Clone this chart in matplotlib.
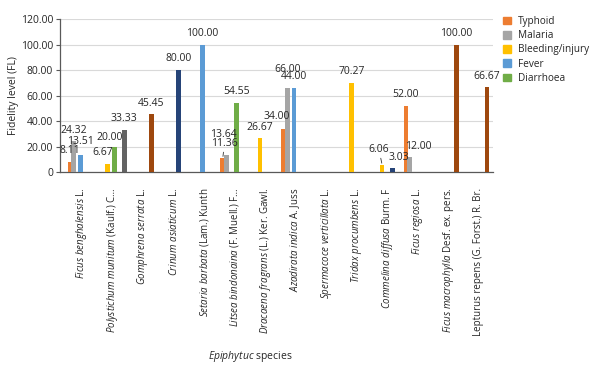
import numpy as np
import matplotlib
matplotlib.use("Agg")
import matplotlib.pyplot as plt
from matplotlib.patches import Patch

plt.rcParams['font.family'] = ['Open Sans', 'DejaVu Sans']
plt.rcParams['mathtext.fontset'] = 'custom'
plt.rcParams['mathtext.rm'] = 'Open Sans'
plt.rcParams['mathtext.it'] = 'Open Sans:italic'

nan = np.nan

# species on the x axis (italic part as mathtext)
species = [r"$\mathit{Ficus\ benghalensis}$ L.",
           r"$\mathit{Polystichum\ munitum}$ (Kaulf.) C…",
           r"$\mathit{Gomphrena\ serrata}$ L.",
           r"$\mathit{Crinum\ asiaticum}$ L.",
           r"$\mathit{Setaria\ barbata}$ (Lam.) Kunth",
           r"$\mathit{Litsea\ bindonaina}$ (F. Muell.) F…",
           r"$\mathit{Dracaena\ fragrans}$ (L.) Ker. Gawl.",
           r"$\mathit{Azadirata\ indica}$ A. Juss",
           r"$\mathit{Spermacoce\ verticillata}$ L.",
           r"$\mathit{Tridax\ procumbens}$ L.",
           r"$\mathit{Commelina\ diffusa}$ Burm. F",
           r"$\mathit{Ficus\ regiosa}$ L.",
           r"$\mathit{Ficus\ macrophylla}$ Desf. ex. pers.",
           "Lepturus repens (G. Forst.) R. Br."]

typhoid   = [8.11, nan, nan, nan, nan, 11.36, nan, 34.00, nan, nan, nan, 52.00, nan, nan]
malaria   = [24.32, nan, nan, nan, nan, 13.64, nan, 66.00, nan, nan, nan, 12.00, nan, nan]
bleeding  = [nan, 6.67, nan, nan, nan, nan, 26.67, nan, nan, 70.27, 6.06, nan, nan, nan]
fever     = [13.51, nan, nan, nan, 100.00, nan, nan, 66.00, nan, nan, nan, nan, nan, nan]
diarrhoea = [nan, 20.00, nan, nan, nan, 54.55, nan, nan, nan, nan, nan, nan, nan, nan]
series6   = [nan, nan, nan, 80.00, nan, nan, nan, nan, nan, nan, 3.03, nan, nan, nan]
series7   = [nan, nan, 45.45, nan, nan, nan, nan, nan, nan, nan, nan, nan, 100.00, 66.67]
series8   = [nan, 33.33, nan, nan, nan, nan, nan, nan, nan, nan, nan, nan, nan, nan]

series_names = ['Typhoid', 'Malaria', 'Bleeding/injury', 'Fever', 'Diarrhoea',
                'Series6', 'Series7', 'Series8']
series_vals = [typhoid, malaria, bleeding, fever, diarrhoea, series6, series7, series8]
colors = ['#ED7D31', '#A5A5A5', '#FFC000', '#5B9BD5', '#70AD47',
          '#264478', '#9E480E', '#636363']
n_legend = 5

# label text that differs from the bar (as printed in the source chart)
label_text = {(3, 7): "44.00"}
# manual label offsets in points (series index, category index)
label_off = {(2, 1): (-3.5, 8), (4, 1): (-3.5, 6.5), (3, 0): (0, 10),
             (0, 5): (1.2, 10), (1, 5): (-2, 14.4), (0, 7): (-5, 8.6),
             (1, 7): (0, 13.5), (2, 10): (-2.2, 10.5), (5, 10): (5, 8.2),
             (1, 11): (6.7, 7.4)}
leaders = [(0, 5), (2, 10)]

text_c = '#262626'
fig = plt.figure(figsize=(5.93, 3.70), dpi=100)
ax = fig.add_axes([60/593, 1-172.3/370, 433/593, 153.3/370])

x = np.arange(len(species))
step = 0.11
width = 0.155
for k, (vals, col) in enumerate(zip(series_vals, colors)):
    v = np.array(vals, dtype=float)
    pos = x + (k - 3.5) * step
    ax.bar(pos, np.nan_to_num(v), width=width, color=col, zorder=3 + k)
    for i, val in enumerate(v):
        if np.isnan(val):
            continue
        txt = label_text.get((k, i), f"{val:.2f}")
        off = label_off.get((k, i), (0, 8))
        kw = {}
        if (k, i) in leaders:
            kw['arrowprops'] = dict(arrowstyle='-', lw=0.6, color='#333333',
                                    shrinkA=0, shrinkB=1)
        ax.annotate(txt, (pos[i], val), xytext=off, textcoords='offset points',
                    ha='center', va='center', fontsize=7.5, color=text_c,
                    zorder=20, **kw)

ax.set_xlim(-0.72, 13.47)
ax.set_ylim(0, 120)
ax.set_yticks(np.arange(0, 121, 20))
ax.set_yticklabels(["0" if t == 0 else f"{t:.2f}" for t in np.arange(0, 121, 20)])
ax.yaxis.grid(True, color='#D9D9D9', lw=0.8, zorder=0)
ax.set_axisbelow(True)
ax.set_xticks(x)
ax.set_xticklabels(species, rotation=90, ha='center', va='top', fontsize=7)
ax.tick_params(axis='x', length=0, pad=11, colors=text_c)
ax.tick_params(axis='y', length=3, width=0.8, color='#595959', labelsize=7.5,
               labelcolor=text_c, pad=2)
for s in ['top', 'right']:
    ax.spines[s].set_visible(False)
for s in ['left', 'bottom']:
    ax.spines[s].set_color('#595959')
    ax.spines[s].set_linewidth(0.9)

ax.set_ylabel("Fidelity level (FL)", fontsize=7.5, color=text_c, labelpad=1)
fig.text(250/593, 1-357/370, r"$\mathit{Epiphytuc}$ species", ha='center',
         va='center', fontsize=7.5, color=text_c)

handles = [Patch(color=colors[k]) for k in range(n_legend)]
fig.legend(handles, series_names[:n_legend], loc='upper left',
           bbox_to_anchor=(503/593, 1-16/370), frameon=False, fontsize=7.2,
           handlelength=0.8, handleheight=0.8, handletextpad=0.7,
           labelspacing=0.32, borderpad=0, borderaxespad=0, labelcolor=text_c)

fig.savefig("out.png", dpi=100)
